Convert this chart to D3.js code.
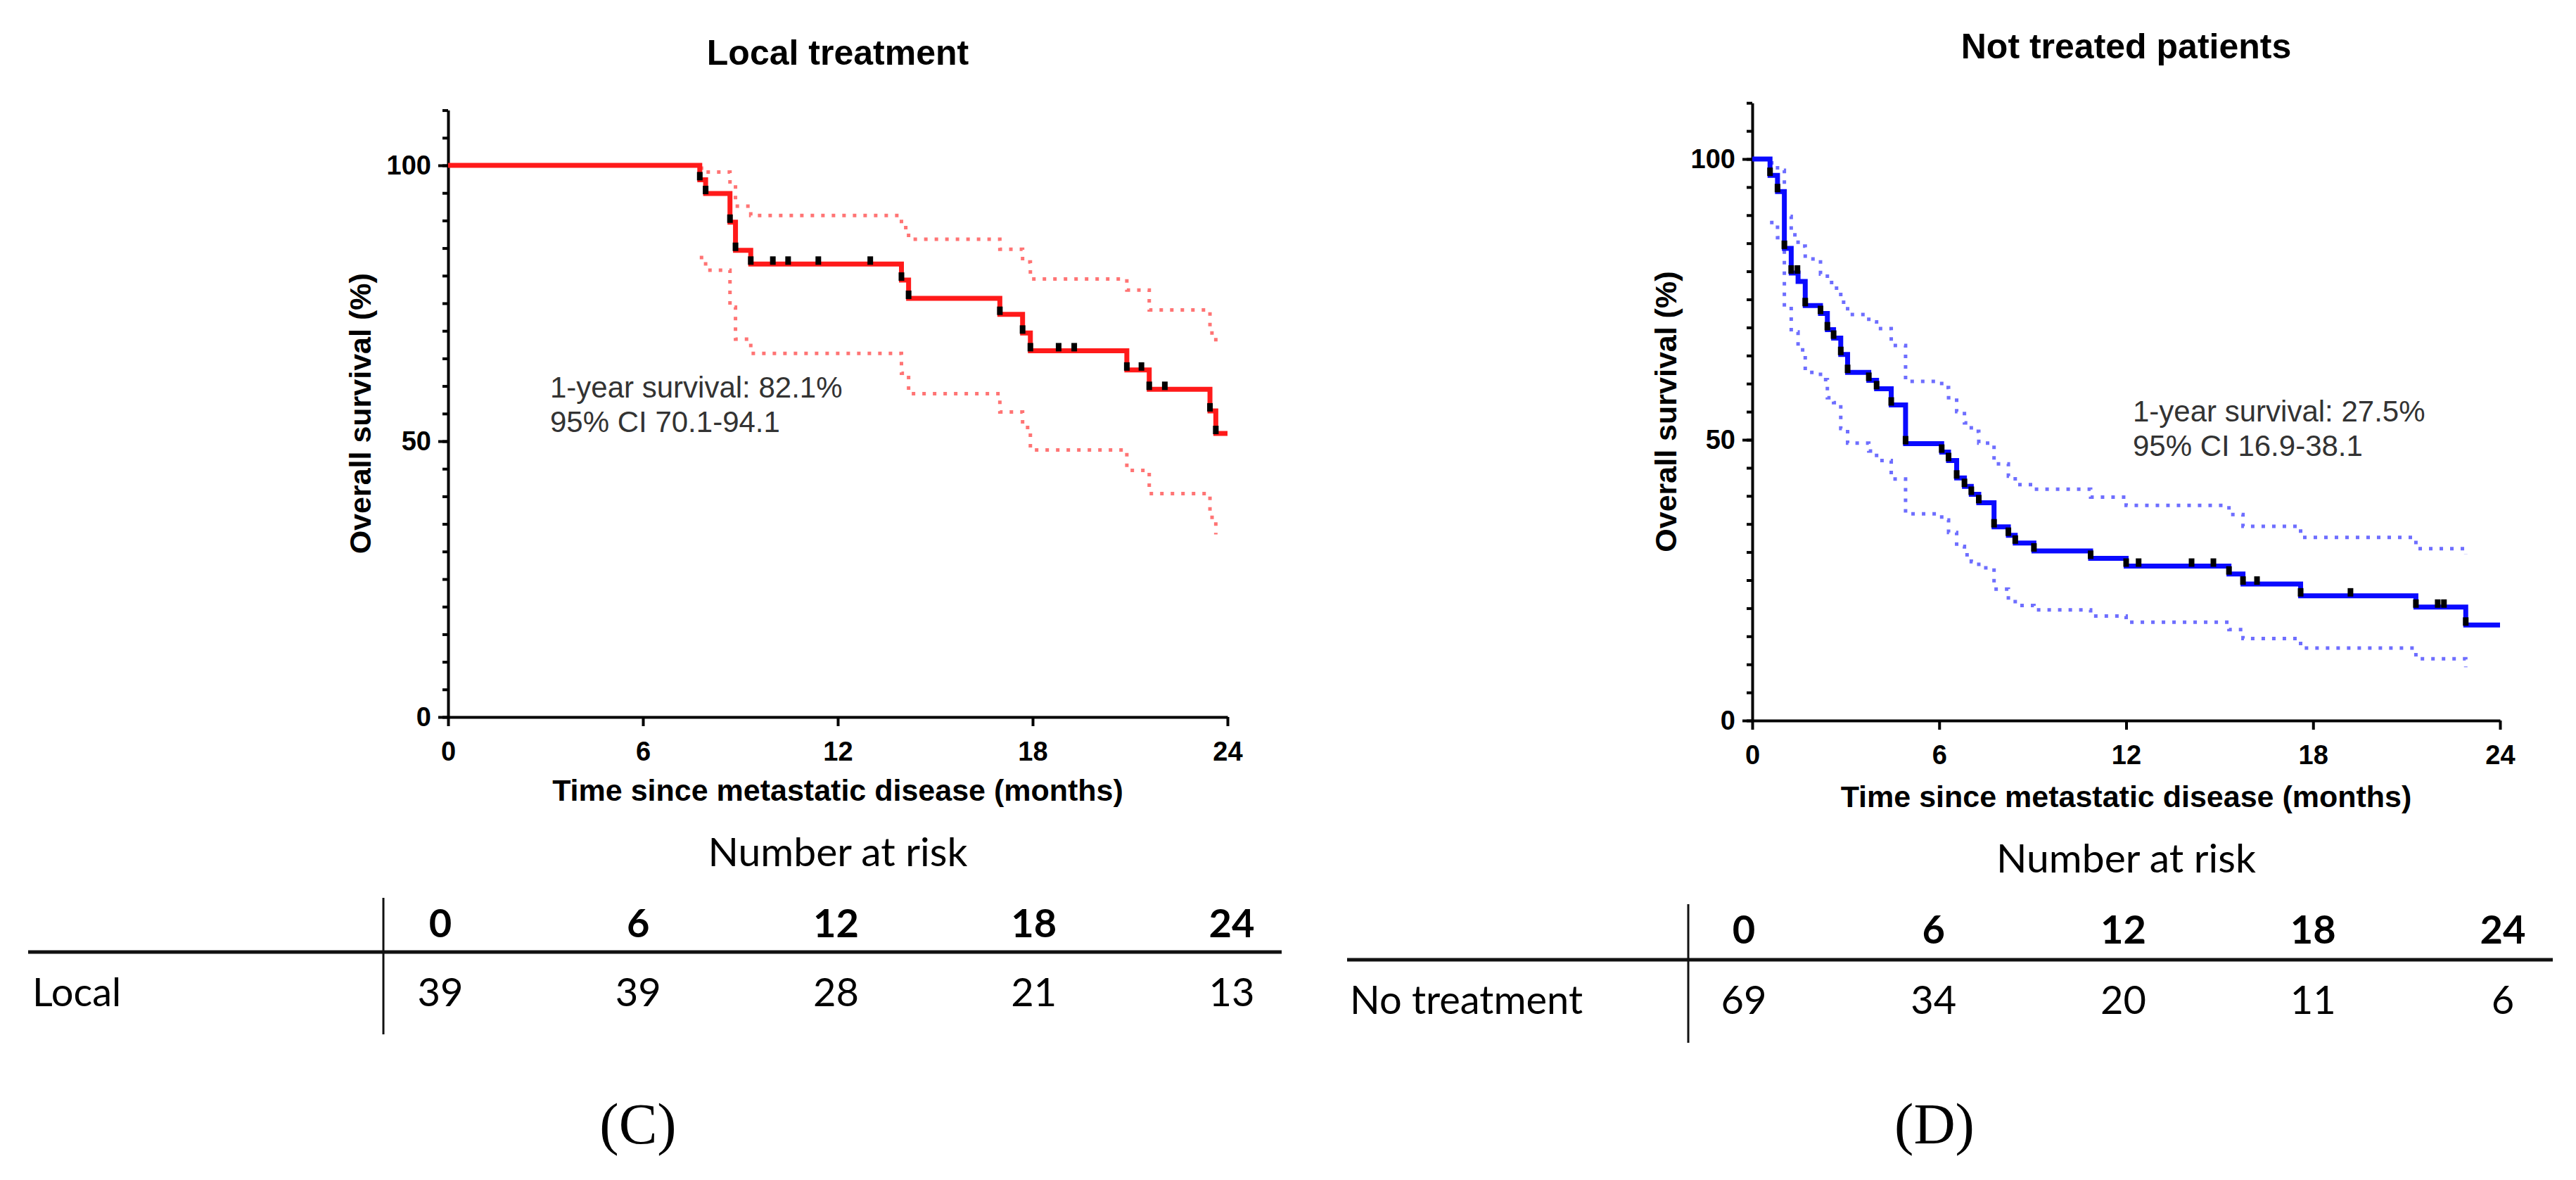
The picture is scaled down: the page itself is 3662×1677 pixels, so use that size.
<!DOCTYPE html>
<html>
<head>
<meta charset="utf-8">
<script src="https://cdn.jsdelivr.net/npm/d3@7"></script>
<style>
  body { margin: 0; background: #fff; }
</style>
</head>
<body>
<div id="figure"></div>
<script>
// Time points shared by the x axis and the number-at-risk table
var timeTicks = [0, 6, 12, 18, 24];

// (C) Local treatment - steps of the Kaplan-Meier curve
var localTimes = [7.75, 7.93, 8.68, 8.85, 9.32, 13.96, 14.18, 16.99, 17.69, 17.93, 20.9, 21.59, 23.46, 23.64];
var localSurvival = [97.4, 94.9, 89.7, 84.6, 82.1, 79.2, 75.9, 73.0, 69.6, 66.4, 62.9, 59.4, 55.5, 51.4];
var localUpper = [99.5, 98.8, 96.5, 92.6, 90.9, 88.7, 86.6, 84.8, 82.5, 79.4, 77.4, 73.8, 69.6, 67.3];
var localLower = [83.3, 81.0, 74.3, 68.5, 65.9, 62.3, 58.6, 55.3, 52.5, 48.4, 44.7, 40.5, 36.2, 33.1];
var localCensored = [7.75, 7.93, 8.68, 8.85, 9.32, 10.0, 10.47, 11.4, 13.0, 13.96, 14.18, 16.99, 17.69, 17.93,
                     18.8, 19.28, 20.9, 21.35, 21.59, 22.07, 23.46, 23.64];
var localAtRisk = [39, 39, 28, 21, 13];

// (D) Not treated patients
var noTxTimes = [0.57, 0.81, 1.03, 1.25, 1.47, 1.70, 2.19, 2.41, 2.61, 2.84, 3.06, 3.74, 3.99, 4.46, 4.92,
                 6.08, 6.30, 6.56, 6.81, 7.03, 7.27, 7.76, 8.22, 8.44, 9.04, 10.86, 12.0, 15.3, 15.75, 17.6, 21.3, 22.9];
var noTxSurvival = [97.1, 94.2, 84.1, 79.7, 78.2, 73.9, 72.5, 69.6, 68.1, 65.2, 62.0, 60.6, 59.1, 56.2, 49.3,
                    47.8, 46.3, 43.2, 41.7, 40.3, 38.8, 34.5, 33.0, 31.6, 30.2, 28.9, 27.5, 26.1, 24.3, 22.2, 20.2, 17.0];
var noTxUpper = [99.3, 98.0, 89.8, 86.5, 84.5, 82.2, 79.5, 78.0, 77.0, 74.5, 72.3, 71.0, 69.8, 66.8, 60.4,
                 59.3, 57.5, 55.0, 53.0, 51.5, 49.4, 45.7, 43.5, 42.0, 41.2, 39.8, 38.3, 36.7, 34.6, 32.6, 30.6, 29.6];
var noTxLower = [88.7, 86.0, 73.7, 69.2, 66.0, 62.0, 60.7, 57.5, 56.6, 52.0, 49.4, 48.0, 46.3, 43.0, 36.8,
                 35.7, 33.5, 31.0, 29.5, 28.3, 27.2, 23.4, 21.5, 20.5, 19.7, 18.6, 17.5, 16.2, 14.6, 12.9, 11.0, 9.5];
var noTxCensored = [0.57, 0.81, 1.03, 1.25, 1.45, 1.70, 2.19, 2.41, 2.61, 2.84, 3.06, 3.74, 3.99, 4.46, 4.92,
                    6.08, 6.30, 6.56, 6.81, 7.03, 7.27, 7.76, 8.22, 8.44, 9.04, 10.86, 12.0, 12.4, 14.1, 14.8,
                    15.3, 15.75, 16.2, 17.6, 19.2, 21.3, 22.0, 22.2, 22.9];
var noTxAtRisk = [69, 34, 20, 11, 6];

var panels = [
    {
        title: "Local treatment", color: "#ff1a1a", ciColor: "#ff7474",
        times: localTimes, surv: localSurvival, upper: localUpper, lower: localLower,
        censored: localCensored, atRisk: localAtRisk, group: "Local", tag: "(C)",
        note: ["1-year survival: 82.1%", "95% CI 70.1-94.1"],
        x0: 637, x1: 1745, y0: 1019, y100: 235, titleY: 92, yTitleX: 527, xTitleY: 1138,
        noteX: 782, noteY: 565,
        col0: 626, col1: 1751, vLineX: 545, vTop: 1276, vBottom: 1470,
        hLineY: 1353, hLeft: 40, hRight: 1822, headY: 1332, rowY: 1430, groupX: 46,
        riskY: 1231, tagX: 907, tagY: 1625
    },
    {
        title: "Not treated patients", color: "#0a0aff", ciColor: "#6e6eff",
        times: noTxTimes, surv: noTxSurvival, upper: noTxUpper, lower: noTxLower,
        censored: noTxCensored, atRisk: noTxAtRisk, group: "No treatment", tag: "(D)",
        note: ["1-year survival: 27.5%", "95% CI 16.9-38.1"],
        x0: 2491, x1: 3554, y0: 1024, y100: 226, titleY: 83, yTitleX: 2383, xTitleY: 1147,
        noteX: 3032, noteY: 599,
        col0: 2479, col1: 3558, vLineX: 2400, vTop: 1285, vBottom: 1482,
        hLineY: 1364, hLeft: 1915, hRight: 3629, headY: 1341, rowY: 1441, groupX: 1919,
        riskY: 1240, tagX: 2750, tagY: 1625
    }
];

var svg = d3.select("#figure")
    .append("svg")
    .attr("width", 3662)
    .attr("height", 1677)
    .style("font-family", "'Liberation Sans', Arial, sans-serif");

svg.append("rect").attr("width", 3662).attr("height", 1677).attr("fill", "#fff");

// survival value of a step curve at time t (right-continuous)
function valueAt(p, t) {
    var v = 100;
    p.times.forEach(function (s, i) { if (s <= t + 1e-6) v = p.surv[i]; });
    return v;
}

panels.forEach(function (p) {
    var x = d3.scaleLinear().domain([0, 24]).range([p.x0, p.x1]);
    var pxPerPct = (p.y0 - p.y100) / 100;
    var y = d3.scaleLinear().domain([0, 110]).range([p.y0, p.y0 - 110 * pxPerPct]);
    var g = svg.append("g");

    // Title
    g.append("text")
        .attr("x", (p.x0 + p.x1) / 2)
        .attr("y", p.titleY)
        .attr("text-anchor", "middle")
        .style("font-size", "50px")
        .style("font-weight", "bold")
        .text(p.title);

    // Minor y ticks every 5 %
    g.append("g")
        .attr("transform", "translate(" + p.x0 + ",0)")
        .call(d3.axisLeft(y).tickValues(d3.range(0, 111, 5)).tickSize(8).tickFormat(""))
        .call(function (a) {
            a.select(".domain").remove();
            a.selectAll("line").attr("stroke-width", 4);
        });

    // Y axis
    g.append("g")
        .attr("transform", "translate(" + p.x0 + ",0)")
        .call(d3.axisLeft(y).tickValues([0, 50, 100]).tickSize(14).tickSizeOuter(0).tickPadding(10))
        .call(function (a) {
            a.select(".domain").attr("stroke-width", 4);
            a.selectAll("line").attr("stroke-width", 4);
            a.selectAll("text")
                .style("font-family", "'Liberation Sans', Arial, sans-serif")
                .style("font-size", "38px")
                .style("font-weight", "bold")
                .attr("fill", "#000");
        });

    // X axis
    g.append("g")
        .attr("transform", "translate(0," + p.y0 + ")")
        .call(d3.axisBottom(x).tickValues(timeTicks).tickSize(13).tickSizeOuter(0).tickPadding(22))
        .call(function (a) {
            a.select(".domain").attr("stroke-width", 4);
            a.selectAll("line").attr("stroke-width", 4);
            a.selectAll("text")
                .style("font-family", "'Liberation Sans', Arial, sans-serif")
                .style("font-size", "38px")
                .style("font-weight", "bold")
                .attr("fill", "#000");
        });

    // Axis titles
    g.append("text")
        .attr("x", (p.x0 + p.x1) / 2)
        .attr("y", p.xTitleY)
        .attr("text-anchor", "middle")
        .style("font-size", "43px")
        .style("font-weight", "bold")
        .text("Time since metastatic disease (months)");

    g.append("text")
        .attr("transform", "translate(" + p.yTitleX + "," + (y(0) + y(110)) / 2 + ") rotate(-90)")
        .attr("text-anchor", "middle")
        .style("font-size", "43px")
        .style("font-weight", "bold")
        .text("Overall survival (%)");

    // Confidence bands (dotted)
    var step = d3.line()
        .x(function (d) { return x(d[0]); })
        .y(function (d) { return y(d[1]); })
        .curve(d3.curveStepAfter);

    [p.upper, p.lower].forEach(function (band) {
        g.append("path")
            .datum(p.times.map(function (t, i) { return [t, band[i]]; }))
            .attr("d", step)
            .attr("fill", "none")
            .attr("stroke", p.ciColor)
            .attr("stroke-width", 5)
            .attr("stroke-dasharray", "5 10");
    });

    // Survival curve
    var pts = [[0, 100]].concat(p.times.map(function (t, i) { return [t, p.surv[i]]; }));
    pts.push([24, p.surv[p.surv.length - 1]]);
    g.append("path")
        .datum(pts)
        .attr("d", step)
        .attr("fill", "none")
        .attr("stroke", p.color)
        .attr("stroke-width", 7);

    // Censor marks
    g.selectAll(".mark")
        .data(p.censored)
        .enter()
        .append("rect")
        .attr("x", function (d) { return x(d) - 4; })
        .attr("y", function (d) { return y(valueAt(p, d)) - 11; })
        .attr("width", 8)
        .attr("height", 12)
        .attr("fill", "#000");

    // Annotation
    g.selectAll(".note")
        .data(p.note)
        .enter()
        .append("text")
        .attr("x", p.noteX)
        .attr("y", function (d, i) { return p.noteY + i * 49; })
        .style("font-size", "42px")
        .attr("fill", "#333")
        .text(function (d) { return d; });

    // Number at risk table
    var col = d3.scalePoint().domain(timeTicks).range([p.col0, p.col1]);
    var tableFont = "Lato, 'Noto Sans', sans-serif";

    g.append("text")
        .attr("x", (p.x0 + p.x1) / 2)
        .attr("y", p.riskY)
        .attr("text-anchor", "middle")
        .style("font-family", tableFont)
        .style("font-size", "57px")
        .text("Number at risk");

    g.append("line")
        .attr("x1", p.hLeft).attr("x2", p.hRight)
        .attr("y1", p.hLineY).attr("y2", p.hLineY)
        .attr("stroke", "#111").attr("stroke-width", 5);

    g.append("line")
        .attr("x1", p.vLineX).attr("x2", p.vLineX)
        .attr("y1", p.vTop).attr("y2", p.vBottom)
        .attr("stroke", "#111").attr("stroke-width", 3);

    g.selectAll(".head")
        .data(timeTicks)
        .enter()
        .append("text")
        .attr("x", function (d) { return col(d); })
        .attr("y", p.headY)
        .attr("text-anchor", "middle")
        .style("font-family", tableFont)
        .style("font-size", "56px")
        .style("font-weight", "bold")
        .text(function (d) { return d; });

    g.selectAll(".risk")
        .data(p.atRisk)
        .enter()
        .append("text")
        .attr("x", function (d, i) { return col(timeTicks[i]); })
        .attr("y", p.rowY)
        .attr("text-anchor", "middle")
        .style("font-family", tableFont)
        .style("font-size", "56px")
        .text(function (d) { return d; });

    g.append("text")
        .attr("x", p.groupX)
        .attr("y", p.rowY)
        .style("font-family", tableFont)
        .style("font-size", "56px")
        .text(p.group);

    // Panel tag
    g.append("text")
        .attr("x", p.tagX)
        .attr("y", p.tagY)
        .attr("text-anchor", "middle")
        .style("font-family", "'Liberation Serif', 'Times New Roman', serif")
        .style("font-size", "82px")
        .text(p.tag);
});
</script>
</body>
</html>
